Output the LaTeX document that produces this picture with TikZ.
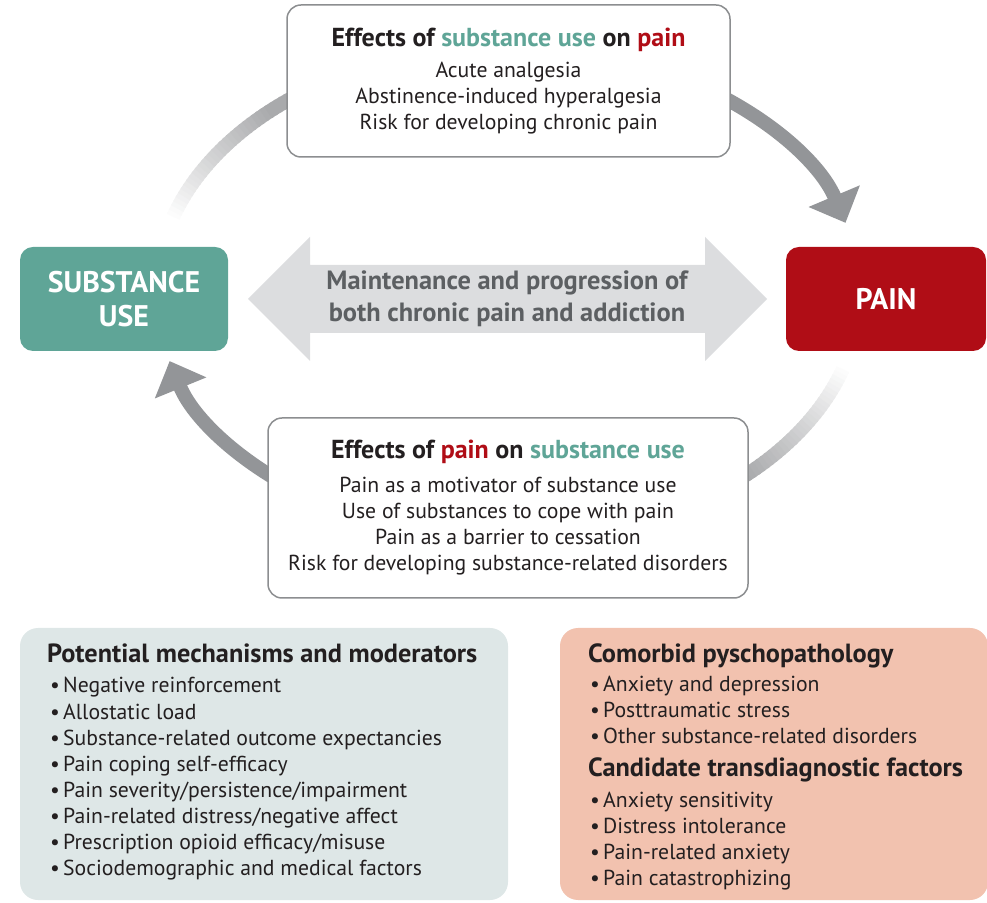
\documentclass[tikz,border=0pt]{standalone}
\usepackage{fontspec}
\setmainfont{PT Sans}
\usetikzlibrary{arrows.meta}

\definecolor{subcol}{HTML}{5FA597}
\definecolor{paincol}{HTML}{B00D16}
\definecolor{arcgray}{HTML}{939598}
\definecolor{fadegray}{HTML}{A9AAAC}
\definecolor{bigarrow}{HTML}{DCDDDF}
\definecolor{maintext}{HTML}{5C5F62}
\definecolor{boxline}{HTML}{8C8E90}
\definecolor{mechfill}{HTML}{DEE7E7}
\definecolor{comfill}{HTML}{F2C2AF}
\definecolor{txt}{HTML}{231F20}

\tikzset{
  effbox/.style={draw=boxline, line width=1.5pt, fill=white, rounded corners=14pt,
    align=center, inner sep=0pt, text=txt, font=\fontsize{21.7}{26}\selectfont},
  keybox/.style={rounded corners=13pt, text=white, align=center, inner sep=0pt,
    font=\bfseries\fontsize{29.8}{34}\selectfont},
  panel/.style={rounded corners=18pt, inner sep=0pt},
  cyclearrow/.style={arcgray, line width=14pt, -{Triangle[width=54pt,length=29pt]}},
  bul/.style={anchor=base west, inner sep=0pt, text=txt, font=\fontsize{21.7}{26}\selectfont},
  head/.style={anchor=base west, inner sep=0pt, text=txt, font=\bfseries\fontsize{26.3}{30}\selectfont},
}
\newcommand\bitem[1]{\makebox[13pt][l]{•}#1}

\begin{document}
\begin{tikzpicture}[x=1pt, y=1pt]
\useasboundingbox (0,0) rectangle (987,902);
\coordinate (ring) at (508,609);

% faded quarters of the cycle
\foreach \a in {0,...,45} {
  \pgfmathtruncatemacro\p{min(100,\a*100/30)}
  \pgfmathsetmacro\s{163-\a}
  \pgfmathsetmacro\e{162-\a-0.4}
  \draw[fadegray!\p!white, line width=14pt] (ring) ++(\s:352 and 247) arc[start angle=\s, end angle=\e, x radius=352, y radius=247];
  \pgfmathsetmacro\s{343-\a}
  \pgfmathsetmacro\e{342-\a-0.4}
  \draw[fadegray!\p!white, line width=14pt] (ring) ++(\s:352 and 247) arc[start angle=\s, end angle=\e, x radius=352, y radius=247];
}
% arrow quarters
\draw[cyclearrow] (ring) ++(62:352 and 247) arc[start angle=62, end angle=16.5, x radius=352, y radius=247];
\draw[cyclearrow] (ring) ++(240:352 and 247) arc[start angle=240, end angle=196, x radius=352, y radius=247];

% two-way arrow in the middle
\fill[bigarrow] (248,603) -- (310,665) -- (310,637) -- (705,637) -- (705,665) -- (767,603)
  -- (705,541) -- (705,569) -- (310,569) -- (310,541) -- cycle;
\node[text=maintext, align=center, inner sep=0pt, font=\bfseries\fontsize{26.4}{32}\selectfont] (maint) at (507,603)
  {Maintenance and progression of\\both chronic pain and addiction};

\node[keybox, fill=subcol, minimum width=208pt, minimum height=104pt] (sub) at (124,603) {SUBSTANCE\\USE};
\node[keybox, fill=paincol, minimum width=200pt, minimum height=104pt] (pain) at (886,603) {PAIN};

\node[effbox, minimum width=443pt, minimum height=152pt] (subonpain) at (508.5,821)
  {{\bfseries\fontsize{26}{26}\selectfont Effects of \textcolor{subcol}{substance use} on \textcolor{paincol}{pain}}\\[5pt]
   Acute analgesia\\Abstinence-induced hyperalgesia\\Risk for developing chronic pain};
\node[effbox, minimum width=480pt, minimum height=180pt] (painonsub) at (508,394)
  {{\bfseries\fontsize{26}{26}\selectfont Effects of \textcolor{paincol}{pain} on \textcolor{subcol}{substance use}}\\[8pt]
   Pain as a motivator of substance use\\Use of substances to cope with pain\\Pain as a barrier to cessation\\
   Risk for developing substance-related disorders};

% lower panels
\node[panel, fill=mechfill, minimum width=488pt, minimum height=272pt] (mech) at (264,138) {};
\node[panel, fill=comfill, minimum width=428pt, minimum height=272pt] (como) at (774,138) {};

\node[head] (mechhead) at (47,239) {Potential mechanisms and moderators};
\foreach \t [count=\i] in {Negative reinforcement, Allostatic load, Substance-related outcome expectancies,
    Pain coping self-efficacy, Pain severity/persistence/impairment, Pain-related distress/negative affect,
    Prescription opioid efficacy/misuse, Sociodemographic and medical factors}
  \node[bul] (mech\i) at (50,209-26.1*\i+26.1) {\bitem{\t}};

\node[head] (comohead) at (588,239) {Comorbid pyschopathology};
\foreach \t [count=\i] in {Anxiety and depression, Posttraumatic stress, Other substance-related disorders}
  \node[bul] (como\i) at (590,210-26*\i+26) {\bitem{\t}};
\node[head] (candhead) at (588,125) {Candidate transdiagnostic factors};
\foreach \t [count=\i] in {Anxiety sensitivity, Distress intolerance, Pain-related anxiety, Pain catastrophizing}
  \node[bul] (cand\i) at (590,95-26*\i+26) {\bitem{\t}};
\end{tikzpicture}
\end{document}
